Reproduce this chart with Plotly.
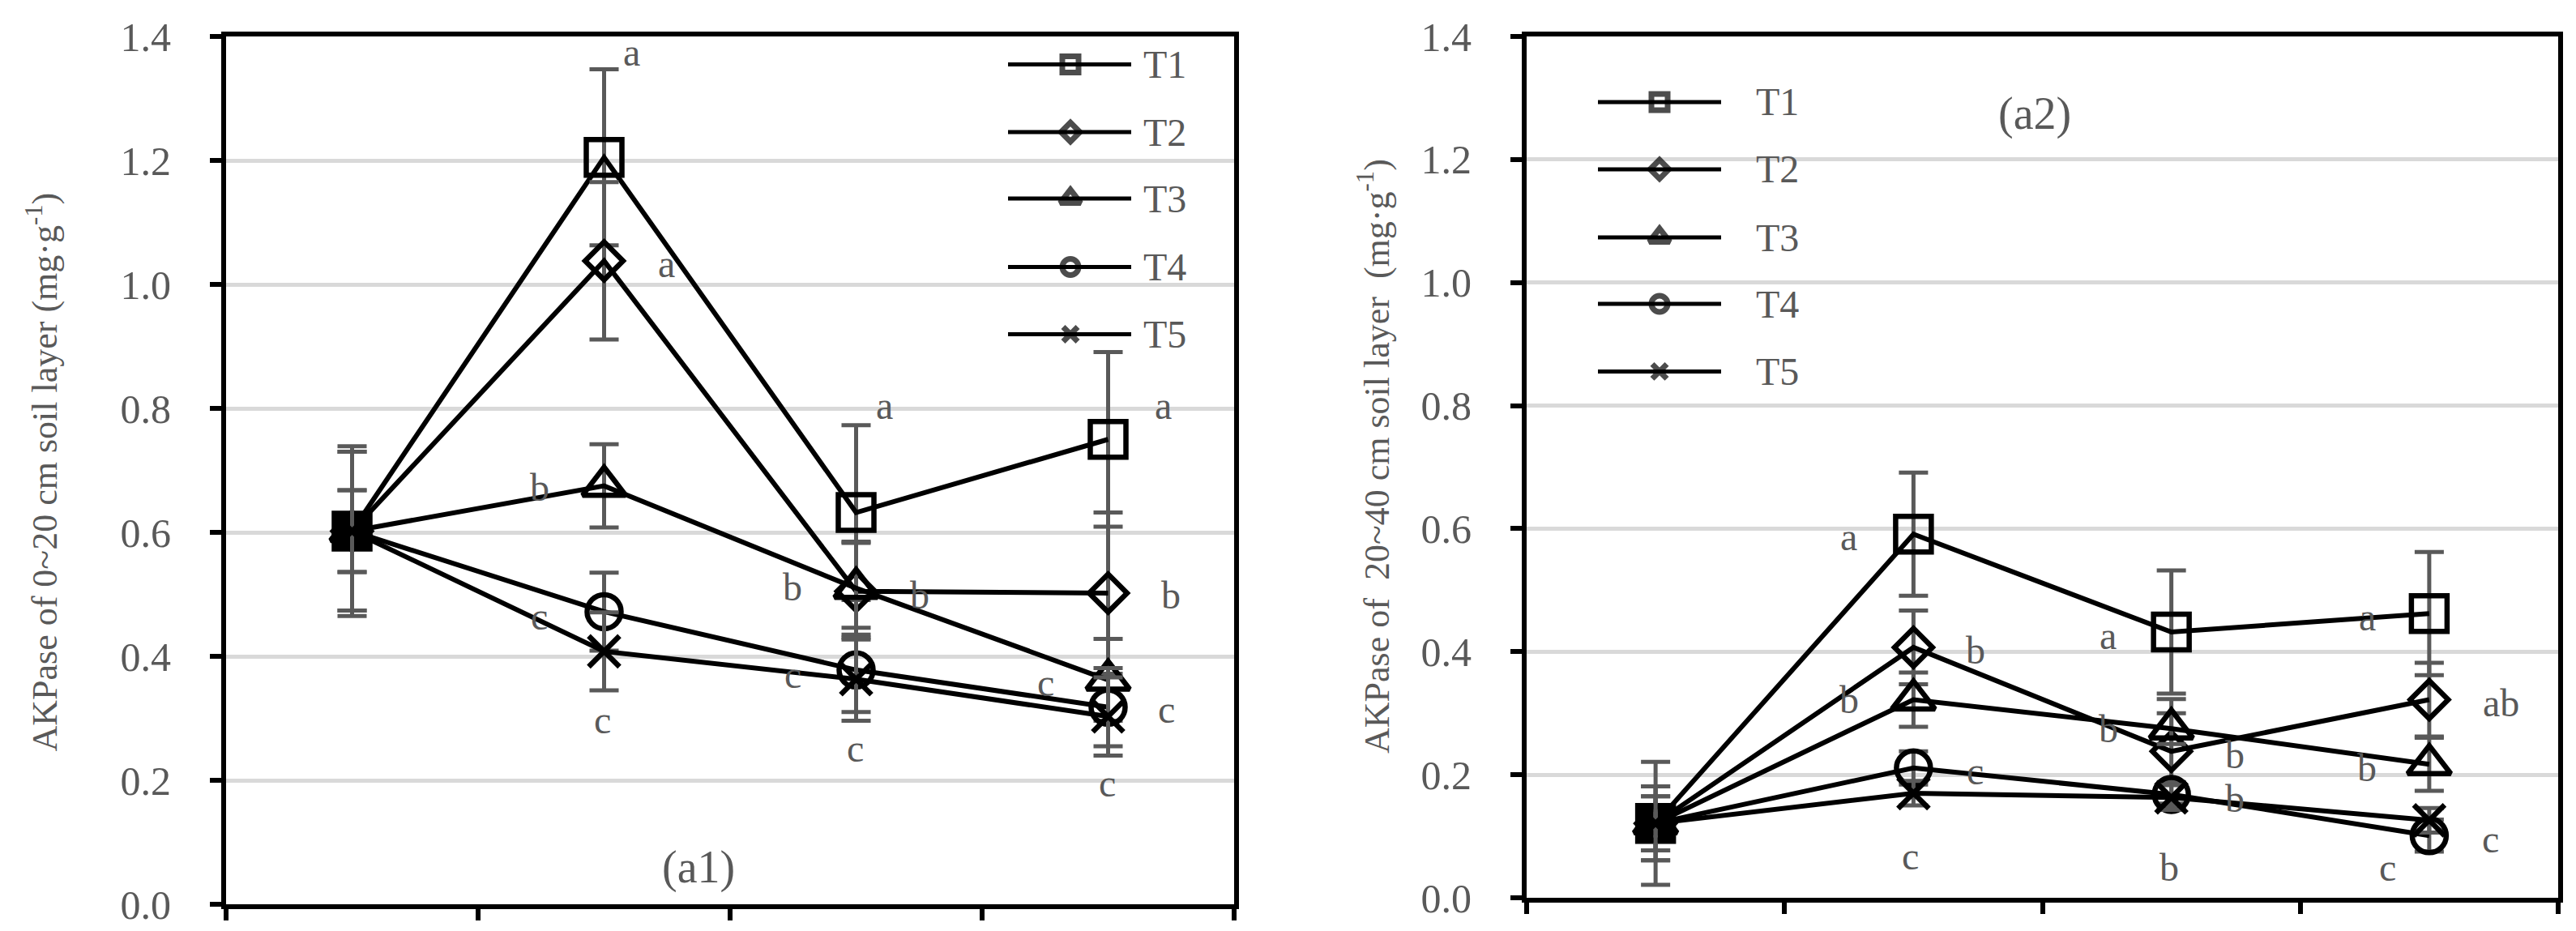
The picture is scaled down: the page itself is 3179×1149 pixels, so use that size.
import plotly.graph_objects as go

# ---------------- data ----------------
periods = [1, 2, 3, 4]          # four sampling stages (no tick labels in the original)
series_names = ["T1", "T2", "T3", "T4", "T5"]

# (a1) 0~20 cm layer
a1_T1 = [0.602, 1.205, 0.632, 0.750]
a1_T2 = [0.602, 1.038, 0.505, 0.502]
a1_T3 = [0.602, 0.675, 0.510, 0.362]
a1_T4 = [0.602, 0.472, 0.378, 0.318]
a1_T5 = [0.602, 0.408, 0.363, 0.303]
a1_T1_err = [0.137, 0.142, 0.141, 0.141]
a1_T2_err = [0.128, 0.127, 0.078, 0.130]
a1_T3_err = [0.066, 0.067, 0.075, 0.066]
a1_T4_err = [0.066, 0.063, 0.068, 0.063]
a1_T5_err = [0.128, 0.063, 0.067, 0.063]

# (a2) 20~40 cm layer
a2_T1 = [0.121, 0.591, 0.432, 0.462]
a2_T2 = [0.121, 0.407, 0.238, 0.322]
a2_T3 = [0.121, 0.322, 0.275, 0.217]
a2_T4 = [0.121, 0.211, 0.168, 0.101]
a2_T5 = [0.121, 0.170, 0.163, 0.126]
a2_T1_err = [0.100, 0.100, 0.100, 0.100]
a2_T2_err = [0.060, 0.060, 0.085, 0.060]
a2_T3_err = [0.044, 0.044, 0.025, 0.043]
a2_T4_err = [0.060, 0.027, 0.020, 0.026]
a2_T5_err = [0.044, 0.020, 0.020, 0.020]

y_ticks = [0.0, 0.2, 0.4, 0.6, 0.8, 1.0, 1.2, 1.4]
y_tick_text = ["0.0", "0.2", "0.4", "0.6", "0.8", "1.0", "1.2", "1.4"]

# significance letters: (text, x, y)
a1_letters = [
    ("a", 2.108, 1.374), ("a", 2.246, 1.033), ("b", 1.744, 0.672), ("c", 1.744, 0.465), ("c", 1.995, 0.298),
    ("a", 3.114, 0.805), ("b", 2.748, 0.512), ("b", 3.252, 0.499), ("c", 2.748, 0.370), ("c", 2.998, 0.252),
    ("a", 4.220, 0.805), ("b", 4.249, 0.499), ("c", 3.751, 0.357), ("c", 4.233, 0.315), ("c", 3.998, 0.195),
]
a2_letters = [
    ("a", 1.750, 0.587), ("b", 2.240, 0.403), ("b", 1.750, 0.322), ("c", 2.240, 0.206), ("c", 1.989, 0.068),
    ("a", 2.756, 0.426), ("b", 2.756, 0.274), ("b", 3.246, 0.232), ("b", 3.246, 0.161), ("b", 2.992, 0.050),
    ("a", 3.761, 0.456), ("ab", 4.280, 0.317), ("b", 3.758, 0.211), ("c", 4.239, 0.096), ("c", 3.840, 0.050),
]

# ---------------- style ----------------
W, H = 3179, 1149
FONT = "Liberation Serif"
GRAY = "#595959"
symbols = ["square-open", "diamond-open", "triangle-up-open", "circle-open", "x-thin-open"]
msizes = [44, 36, 46, 42, 38]
leg_symbols = ["square-open", "diamond-open", "triangle-up-open", "circle-open", "x-thin-open"]
leg_msizes = [20, 18, 22, 20, 18]

XR = [0.5, 4.5]
YR = [0.0, 1.4]

panels = [
    dict(xa="x", ya="y",
         vals=[a1_T1, a1_T2, a1_T3, a1_T4, a1_T5],
         errs=[a1_T1_err, a1_T2_err, a1_T3_err, a1_T4_err, a1_T5_err],
         letters=a1_letters, tag="(a1)", tag_pos=(2.375, 0.060),
         xdom=[271 / W, 1515 / W], ydom=[1 - 1108 / H, 1 - 37 / H],
         leg_x=(1236, 1313, 1388, 1401), leg_y=[71.6, 155, 237, 321.5, 404.5]),
    dict(xa="x2", ya="y2",
         vals=[a2_T1, a2_T2, a2_T3, a2_T4, a2_T5],
         errs=[a2_T1_err, a2_T2_err, a2_T3_err, a2_T4_err, a2_T5_err],
         letters=a2_letters, tag="(a2)", tag_pos=(2.47, 1.274),
         xdom=[1876 / W, 3149 / W], ydom=[1 - 1100 / H, 1 - 37 / H],
         leg_x=(1964, 2040, 2116, 2157), leg_y=[117.9, 200.9, 285, 367, 450.4]),
]

fig = go.Figure()
annotations = []

def px_to_x(p, dom):
    f = (p / W - dom[0]) / (dom[1] - dom[0])
    return XR[0] + f * (XR[1] - XR[0])

def px_to_y(p, dom):
    f = ((1 - p / H) - dom[0]) / (dom[1] - dom[0])
    return YR[0] + f * (YR[1] - YR[0])

for pnl in panels:
    for i, name in enumerate(series_names):
        if i == 0:
            sym = ["square"] + [symbols[0]] * (len(periods) - 1)
        else:
            sym = symbols[i]
        fig.add_trace(go.Scatter(
            x=periods, y=pnl["vals"][i], name=name, mode="lines+markers",
            xaxis=pnl["xa"], yaxis=pnl["ya"], showlegend=False,
            line=dict(color="black", width=6),
            marker=dict(symbol=sym, size=msizes[i], color="black",
                        line=dict(color="black", width=6.5)),
            error_y=dict(type="data", array=pnl["errs"][i], visible=True,
                         color=GRAY, thickness=5, width=18),
            cliponaxis=False,
        ))
    # custom legend
    x0 = px_to_x(pnl["leg_x"][0], pnl["xdom"])
    xm = px_to_x(pnl["leg_x"][1], pnl["xdom"])
    x1 = px_to_x(pnl["leg_x"][2], pnl["xdom"])
    xt = px_to_x(pnl["leg_x"][3], pnl["xdom"])
    for i, name in enumerate(series_names):
        yy = px_to_y(pnl["leg_y"][i], pnl["ydom"])
        fig.add_trace(go.Scatter(
            x=[x0, xm, x1], y=[yy, yy, yy], mode="lines+markers",
            xaxis=pnl["xa"], yaxis=pnl["ya"], showlegend=False, hoverinfo="skip",
            line=dict(color="black", width=5),
            marker=dict(symbol=leg_symbols[i], size=[0, leg_msizes[i], 0], color="black",
                        line=dict(color="black", width=[0, 7, 0])),
            cliponaxis=False,
        ))
        annotations.append(dict(x=xt, y=yy, xref=pnl["xa"], yref=pnl["ya"], text=name,
                                showarrow=False, xanchor="left", yanchor="middle",
                                font=dict(family=FONT, size=48, color=GRAY)))
    for (t, lx, ly) in pnl["letters"]:
        annotations.append(dict(x=lx, y=ly, xref=pnl["xa"], yref=pnl["ya"], text=t,
                                showarrow=False, xanchor="center", yanchor="middle",
                                font=dict(family=FONT, size=48, color=GRAY)))
    annotations.append(dict(x=pnl["tag_pos"][0], y=pnl["tag_pos"][1], xref=pnl["xa"], yref=pnl["ya"],
                            text=pnl["tag"], showarrow=False, xanchor="center", yanchor="middle",
                            font=dict(family=FONT, size=56, color=GRAY)))

# axis titles
annotations.append(dict(x=44 / W, y=0.5, xref="paper", yref="paper",
                        text="AKPase of 0~20 cm soil layer (mg·g<sup>-1</sup>)",
                        textangle=-90, showarrow=False, xanchor="center", yanchor="middle",
                        font=dict(family=FONT, size=44, color=GRAY)))
annotations.append(dict(x=1688 / W, y=0.517, xref="paper", yref="paper",
                        text="AKPase of \u00a020~40 cm soil layer \u00a0(mg·g<sup>-1</sup>)",
                        textangle=-90, showarrow=False, xanchor="center", yanchor="middle",
                        font=dict(family=FONT, size=44, color=GRAY)))

def xaxis_cfg(dom, anchor):
    return dict(domain=dom, anchor=anchor, range=XR, tickvals=[0.5, 1.5, 2.5, 3.5, 4.5],
                showticklabels=False, ticks="outside", ticklen=14, tickwidth=6, tickcolor="black",
                showline=True, linewidth=6, linecolor="black", mirror=True,
                showgrid=False, zeroline=False, automargin=False)

def yaxis_cfg(dom, anchor):
    return dict(domain=dom, anchor=anchor, range=YR, tickvals=y_ticks, ticktext=y_tick_text,
                ticks="outside", ticklen=14, tickwidth=6, tickcolor="black",
                showline=True, linewidth=6, linecolor="black", mirror=True,
                showgrid=True, gridcolor="#d9d9d9", gridwidth=5, zeroline=False,
                ticklabelstandoff=38, automargin=False,
                tickfont=dict(family=FONT, size=50, color=GRAY))

fig.update_layout(
    width=W, height=H, autosize=False,
    margin=dict(l=0, r=0, t=0, b=0),
    paper_bgcolor="white", plot_bgcolor="white",
    showlegend=False,
    font=dict(family=FONT, color=GRAY),
    xaxis=xaxis_cfg(panels[0]["xdom"], "y"),
    yaxis=yaxis_cfg(panels[0]["ydom"], "x"),
    xaxis2=xaxis_cfg(panels[1]["xdom"], "y2"),
    yaxis2=yaxis_cfg(panels[1]["ydom"], "x2"),
    annotations=annotations,
)

fig.write_html("out.html")
